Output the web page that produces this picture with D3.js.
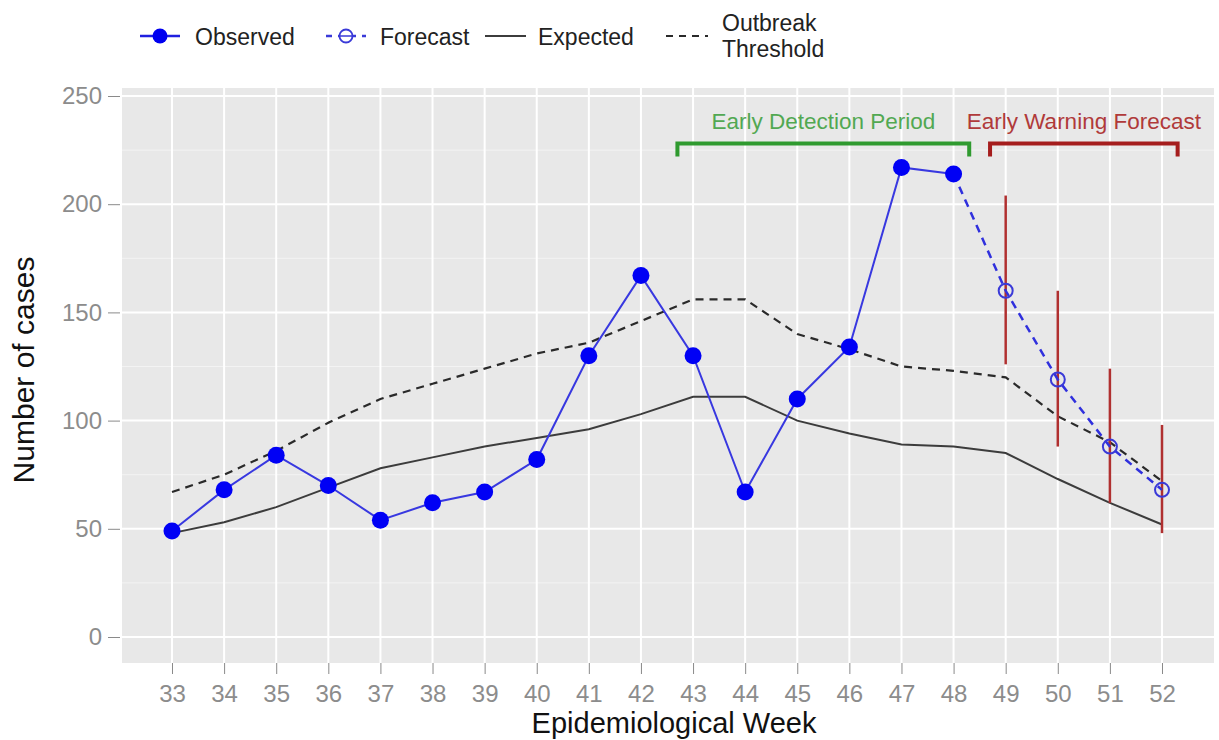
<!DOCTYPE html>
<html><head><meta charset="utf-8">
<script src="https://cdn.jsdelivr.net/npm/d3@7"></script>
<style>body{margin:0;background:#fff}svg{display:block;font-family:"Liberation Sans",Arial,sans-serif}</style>
</head><body><svg id="c" width="1219" height="740"></svg>
<script>
const weeks = [33,34,35,36,37,38,39,40,41,42,43,44,45,46,47,48,49,50,51,52];
const observedWeeks = [33,34,35,36,37,38,39,40,41,42,43,44,45,46,47,48];
const observed = [49,68,84,70,54,62,67,82,130,167,130,67,110,134,217,214];
const forecastWeeks = [48,49,50,51,52];
const forecast = [214,160,119,88,68];
const forecastLow = [null,126,88,62,48];
const forecastHigh = [null,204,160,124,98];
const expected = [48,53,60,69,78,83,88,92,96,103,111,111,100,94,89,88,85,73,62,52];
const threshold = [67,75,86,99,110,117,124,131,136,146,156,156,140,133,125,123,120,102,90,72];
const yTicks = [0,50,100,150,200,250];
const periods = [
  {label:"Early Detection Period", from:42.7, to:48.3, color:"#2f9a2f", text:"#52a852"},
  {label:"Early Warning Forecast", from:48.7, to:52.3, color:"#a51d1d", text:"#b03a3a"}
];

const svg = d3.select("#c");
const L=122, R=1214, T=88, B=663;
const x = d3.scaleLinear().domain([33,52]).range([172,1162]);
const y = d3.scaleLinear().domain([0,250]).range([637,96]);

svg.append("rect").attr("x",L).attr("y",T).attr("width",R-L).attr("height",B-T).attr("fill","#e8e8e8");
const g = svg.append("g");
[25,75,125,175,225].forEach(v=>g.append("line").attr("x1",L).attr("x2",R).attr("y1",y(v)).attr("y2",y(v)).attr("stroke","#f3f3f3").attr("stroke-width",1));
yTicks.forEach(v=>g.append("line").attr("x1",L).attr("x2",R).attr("y1",y(v)).attr("y2",y(v)).attr("stroke","#fff").attr("stroke-width",2));
weeks.forEach(w=>g.append("line").attr("x1",x(w)).attr("x2",x(w)).attr("y1",T).attr("y2",B).attr("stroke","#fff").attr("stroke-width",2));

const ya = svg.append("g").attr("transform",`translate(${L},0)`).call(d3.axisLeft(y).tickValues(yTicks).tickSize(12).tickPadding(8));
ya.select(".domain").remove();
ya.selectAll("line").attr("stroke","#8a8a8a").attr("transform","translate(-2,0)");
ya.selectAll("text").attr("fill","#8c8c8c").attr("font-size",24).attr("font-family","Liberation Sans, Arial, sans-serif");
const xa = svg.append("g").attr("transform",`translate(0,${B})`).call(d3.axisBottom(x).tickValues(weeks).tickFormat(d3.format("d")).tickSize(11).tickPadding(11));
xa.select(".domain").remove();
xa.selectAll("line").attr("stroke","#8a8a8a");
xa.selectAll("text").attr("fill","#8c8c8c").attr("font-size",24).attr("font-family","Liberation Sans, Arial, sans-serif");

svg.append("text").attr("x",674).attr("y",733).attr("text-anchor","middle").attr("font-size",29).attr("fill","#111").text("Epidemiological Week");
svg.append("text").attr("transform","translate(34,370) rotate(-90)").attr("text-anchor","middle").attr("font-size",30).attr("fill","#111").text("Number of cases");

const line = d3.line();
svg.append("path").attr("d",line(weeks.map((w,i)=>[x(w),y(expected[i])]))).attr("fill","none").attr("stroke","#3c3c3c").attr("stroke-width",2);
svg.append("path").attr("d",line(weeks.map((w,i)=>[x(w),y(threshold[i])]))).attr("fill","none").attr("stroke","#2a2a2a").attr("stroke-width",2.2).attr("stroke-dasharray","8,6");

forecastWeeks.forEach((w,i)=>{ if(forecastLow[i]==null) return;
  svg.append("line").attr("x1",x(w)).attr("x2",x(w)).attr("y1",y(forecastLow[i])).attr("y2",y(forecastHigh[i])).attr("stroke","#b03030").attr("stroke-width",2.5);
});

svg.append("path").attr("d",line(forecastWeeks.map((w,i)=>[x(w),y(forecast[i])]))).attr("fill","none").attr("stroke","#3030dd").attr("stroke-width",2.5).attr("stroke-dasharray","8,6");
svg.append("path").attr("d",line(observedWeeks.map((w,i)=>[x(w),y(observed[i])]))).attr("fill","none").attr("stroke","#3838e0").attr("stroke-width",2);
forecastWeeks.slice(1).forEach((w,j)=>{
  svg.append("circle").attr("cx",x(w)).attr("cy",y(forecast[j+1])).attr("r",7).attr("fill","none").attr("stroke","#3a3ad8").attr("stroke-width",2);
});
observedWeeks.forEach((w,i)=>svg.append("circle").attr("cx",x(w)).attr("cy",y(observed[i])).attr("r",8.5).attr("fill","#0000f5"));

periods.forEach(p=>{
  const x1=x(p.from), x2=x(p.to), yt=y(228), yb=y(222);
  svg.append("path").attr("d",`M${x1},${yb}V${yt}H${x2}V${yb}`).attr("fill","none").attr("stroke",p.color).attr("stroke-width",4);
  svg.append("text").attr("x",(x1+x2)/2).attr("y",129).attr("text-anchor","middle").attr("font-size",22.5).attr("fill",p.text).text(p.label);
});

const lg = svg.append("g").attr("font-size",23).attr("fill","#222");
const ly=36;
lg.append("line").attr("x1",140).attr("x2",180).attr("y1",ly).attr("y2",ly).attr("stroke","#2020e0").attr("stroke-width",2.5);
lg.append("circle").attr("cx",160).attr("cy",ly).attr("r",7.5).attr("fill","#0000f0");
lg.append("text").attr("x",195).attr("y",ly+9).text("Observed");
lg.append("line").attr("x1",326).attr("x2",366).attr("y1",ly).attr("y2",ly).attr("stroke","#3a3ad8").attr("stroke-width",2.5).attr("stroke-dasharray","6,6");
lg.append("circle").attr("cx",346).attr("cy",ly).attr("r",6.5).attr("fill","#fff").attr("stroke","#3a3ad8").attr("stroke-width",1.8);
lg.append("line").attr("x1",340).attr("x2",352).attr("y1",ly).attr("y2",ly).attr("stroke","#3a3ad8").attr("stroke-width",1.5);
lg.append("text").attr("x",380).attr("y",ly+9).text("Forecast");
lg.append("line").attr("x1",485).attr("x2",526).attr("y1",ly).attr("y2",ly).attr("stroke","#3c3c3c").attr("stroke-width",2);
lg.append("text").attr("x",538).attr("y",ly+9).text("Expected");
lg.append("line").attr("x1",666).attr("x2",708).attr("y1",ly).attr("y2",ly).attr("stroke","#2a2a2a").attr("stroke-width",2).attr("stroke-dasharray","7,6");
lg.append("text").attr("x",722).attr("y",31).text("Outbreak");
lg.append("text").attr("x",722).attr("y",57).text("Threshold");
</script></body></html>
